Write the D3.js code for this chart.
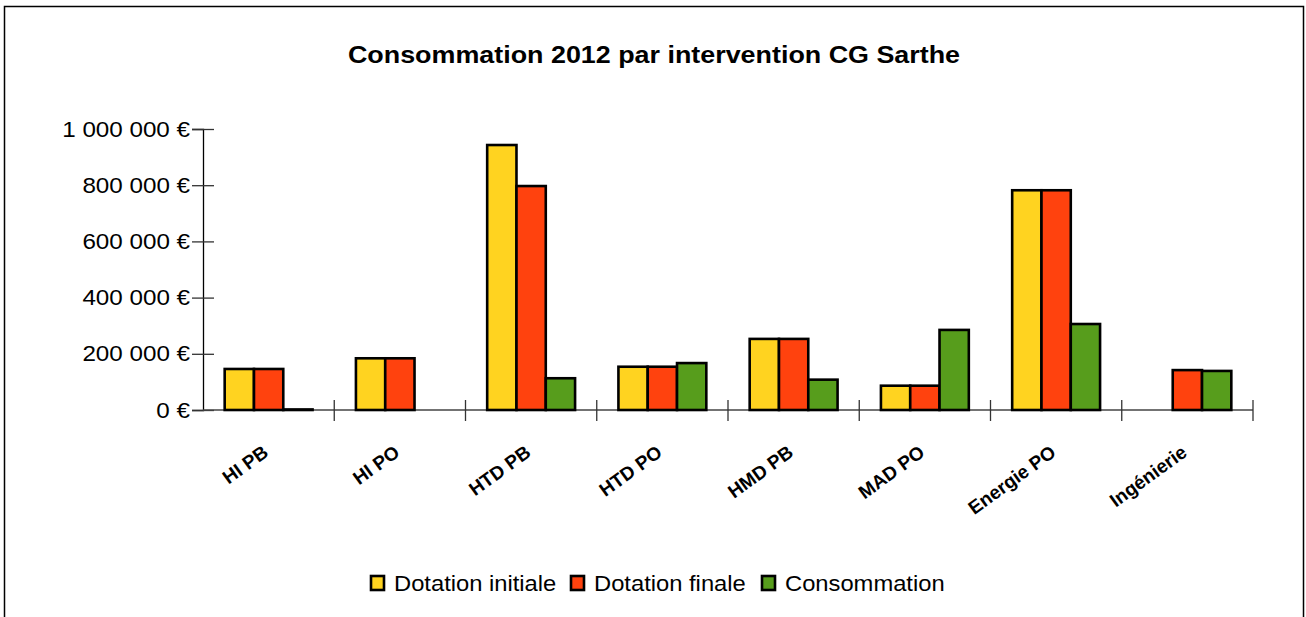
<!DOCTYPE html>
<html>
<head>
<meta charset="utf-8">
<script src="https://cdn.jsdelivr.net/npm/d3@7"></script>
<style>
  body { margin: 0; background: #fff; }
  text { font-family: "Liberation Sans", Arial, sans-serif; }
</style>
</head>
<body>
<div id="chart"></div>
<script>
const categories = ["HI PB", "HI PO", "HTD PB", "HTD PO", "HMD PB", "MAD PO", "Energie PO", "Ingénierie"];
const dotationInitiale = [146000, 184000, 943000, 154000, 253000, 86500, 782000, null];
const dotationFinale = [146000, 184000, 797000, 154000, 253000, 86500, 782000, 142000];
const consommation = [2000, null, 113000, 167000, 108000, 285000, 306000, 139000];
const seriesNames = ["Dotation initiale", "Dotation finale", "Consommation"];
const seriesColors = ["#ffd320", "#ff420e", "#579d1c"];
const yTicks = [0, 200000, 400000, 600000, 800000, 1000000];

const width = 1306;
const height = 617;
const margin = { top: 129, right: 53, bottom: 207, left: 203 };

const svg = d3.select("#chart")
  .append("svg")
  .attr("width", width)
  .attr("height", height);

// frame
svg.append("path")
  .attr("d", `M4.5,${height} V6.5 H1303.5 V${height}`)
  .attr("fill", "none")
  .attr("stroke", "#000")
  .attr("stroke-width", 1.5);

svg.append("text")
  .attr("transform", "translate(654,63) scale(1.12,1)")
  .attr("text-anchor", "middle")
  .attr("font-size", 24)
  .attr("font-weight", "bold")
  .text("Consommation 2012 par intervention CG Sarthe");

const fr = d3.formatLocale({ decimal: ",", thousands: "\u00a0", grouping: [3], currency: ["", " €"] });
const fmt = fr.format(",.0f");

const x = d3.scaleBand()
  .domain(categories)
  .range([margin.left, width - margin.right])
  .paddingInner(0);

const xs = d3.scaleBand()
  .domain(seriesNames)
  .range([0, x.bandwidth()])
  .paddingInner(0)
  .paddingOuter(0.74);

const y = d3.scaleLinear()
  .domain([0, 1000000])
  .range([height - margin.bottom, margin.top]);

// y axis
const yAxis = svg.append("g")
  .attr("transform", `translate(${margin.left},0)`)
  .call(d3.axisLeft(y).tickValues(yTicks).tickFormat(d => fmt(d) + " €").tickSizeOuter(0).tickSize(11).tickPadding(2));
yAxis.select(".domain").attr("stroke", "#000").attr("stroke-width", 1.3);
yAxis.selectAll(".tick line").attr("x2", 11).attr("x1", -11).attr("stroke", "#333").attr("stroke-width", 1.3);
yAxis.selectAll(".tick text")
  .attr("x", null)
  .attr("transform", "translate(-13,0) scale(1.1,1)")
  .attr("font-size", 22)
  .attr("fill", "#000")
  .attr("font-family", "'Liberation Sans', Arial, sans-serif");

// x axis
const xAxis = svg.append("g")
  .attr("transform", `translate(0,${y(0)})`);
xAxis.append("line")
  .attr("x1", margin.left).attr("x2", width - margin.right)
  .attr("stroke", "#444").attr("stroke-width", 1.3);
xAxis.selectAll("line.sep")
  .data(categories.slice(1).concat([null]))
  .join("line")
  .attr("class", "sep")
  .attr("x1", d => d ? x(d) : x.range()[1])
  .attr("x2", d => d ? x(d) : x.range()[1])
  .attr("y1", -10).attr("y2", 11)
  .attr("stroke", "#333").attr("stroke-width", 1.3);
xAxis.selectAll("text")
  .data(categories)
  .join("text")
  .attr("transform", d => `translate(${x(d) + x.bandwidth() / 2 + 1},45) rotate(-36)`)
  .attr("text-anchor", "end")
  .attr("font-size", 19)
  .attr("font-weight", "bold")
  .text(d => d);

// bars
const seriesData = [dotationInitiale, dotationFinale, consommation];
seriesNames.forEach((name, si) => {
  svg.append("g")
    .selectAll("rect")
    .data(categories.map((c, i) => ({ c, v: seriesData[si][i] })).filter(d => d.v !== null))
    .join("rect")
    .attr("x", d => x(d.c) + xs(name))
    .attr("y", d => y(d.v))
    .attr("width", xs.bandwidth())
    .attr("height", d => y(0) - y(d.v))
    .attr("fill", seriesColors[si])
    .attr("stroke", "#000")
    .attr("stroke-width", 2.6);
});

// legend
const legendX = [371, 571, 762];
const legend = svg.append("g");
seriesNames.forEach((name, i) => {
  legend.append("rect")
    .attr("x", legendX[i]).attr("y", 576)
    .attr("width", 13).attr("height", 14)
    .attr("fill", seriesColors[i])
    .attr("stroke", "#000").attr("stroke-width", 2.6);
  legend.append("text")
    .attr("transform", `translate(${legendX[i] + 23},591) scale(1.08,1)`)
    .attr("font-size", 22)
    .text(name);
});
</script>
</body>
</html>
